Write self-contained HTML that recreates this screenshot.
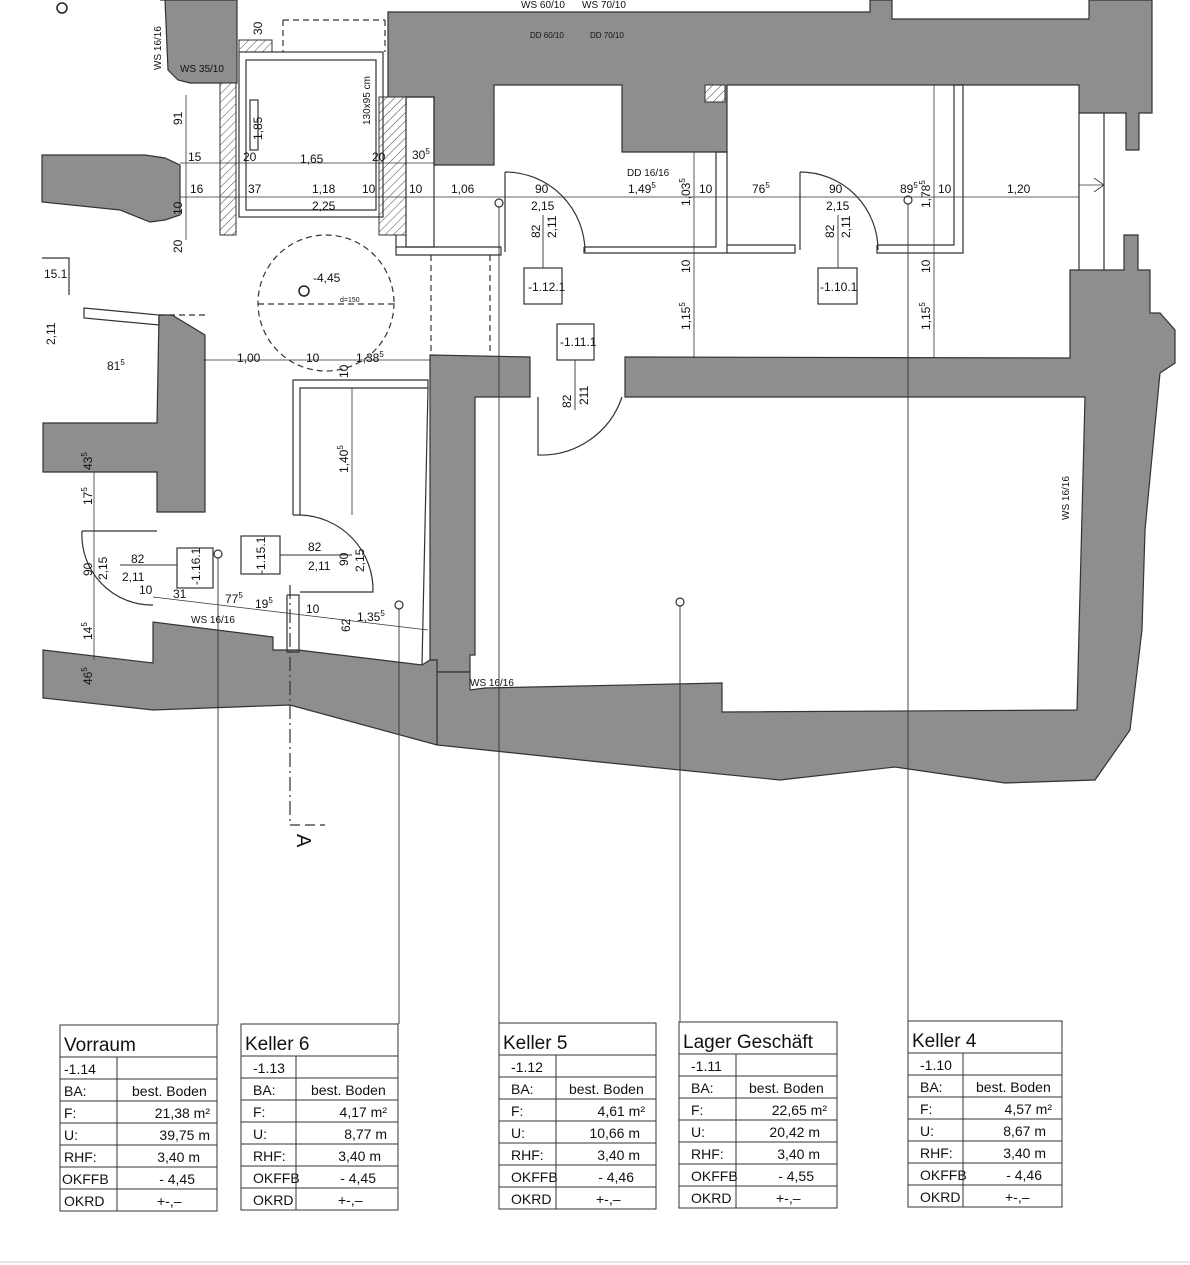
<!DOCTYPE html>
<html><head><meta charset="utf-8"><style>
html,body{margin:0;padding:0;background:#fff;}
svg{display:block;font-family:"Liberation Sans",sans-serif;}
</style></head><body>
<svg width="1190" height="1265" viewBox="0 0 1190 1265" xmlns="http://www.w3.org/2000/svg">
<defs>
<pattern id="h" width="6" height="6" patternUnits="userSpaceOnUse" patternTransform="rotate(45)">
<rect width="6" height="6" fill="#fff"/><line x1="0" y1="0" x2="0" y2="6" stroke="#444" stroke-width="1"/></pattern>
</defs>
<g fill="#8e8e8e" stroke="#333" stroke-width="1.2">
<!-- top-left block -->
<polygon points="160,0 237,0 237,83 190,83 178,80 168,70 165,0"/>
<!-- big top mass -->
<polygon points="388,12 870,12 870,0 892,0 892,19 1089,19 1089,0 1152,0 1152,113 1139,113 1139,150 1126,150 1126,113 1079,113 1079,85 727,85 727,152 622,152 622,85 494,85 494,165 434,165 434,97 406,97 406,110 388,110"/>
<!-- left corridor -->
<polygon points="42,155 145,155 165,158 180,165 180,215 165,220 150,222 120,210 42,202"/>
<!-- left vertical gray -->
<polygon points="159,315 172,315 205,335 205,512 157,512 157,472 43,472 43,423 157,423"/>
<!-- mid wall + Lager left wall -->
<polygon points="430,355 530,357 530,397 475,397 475,655 470,655 470,672 437,672 437,660 430,660"/>
<polygon points="625,357 1070,358 1070,270 1124,270 1124,235 1138,235 1138,270 1150,270 1150,313 1160,313 1175,330 1175,363 1160,373 1145,530 1142,630 1130,730 1095,780 1005,783 895,767 780,780 600,762 437,745 437,672 470,672 470,690 485,688 722,683 722,712 1077,710 1085,397 625,397"/>
<!-- bottom band left -->
<polygon points="43,650 153,663 153,622 273,637 273,650 298,650 422,665 430,660 437,660 437,745 290,705 153,710 43,698"/>
</g>
<!-- lift + hatches -->
<rect x="220" y="83" width="16" height="152" fill="url(#h)" stroke="#333"/>
<rect x="379" y="97" width="27" height="138" fill="url(#h)" stroke="#333"/>
<rect x="239" y="40" width="33" height="12" fill="url(#h)" stroke="#333"/>
<rect x="705" y="85" width="20" height="17" fill="url(#h)" stroke="#333"/>
<g fill="none" stroke="#333" stroke-width="1.2">
<rect x="239" y="52" width="144" height="165"/>
<rect x="246" y="60" width="130" height="150"/>
<rect x="250" y="100" width="8" height="50"/>
<rect x="406" y="97" width="28" height="150"/>
<polyline points="396,247 501,247 501,255 396,255 396,235"/>
<polyline points="584,247 716,247 716,152 727,152 727,253 584,253 584,247"/>
<polyline points="727,245 795,245 795,253 727,253"/>
<polyline points="877,245 954,245 954,85 963,85 963,253 877,253 877,245"/>
<line x1="1104" y1="113" x2="1104" y2="270"/>
<line x1="1079" y1="113" x2="1079" y2="270"/>
<!-- Keller 6 walls -->
<polyline points="293,515 293,380 428,380 428,388 300,388 300,515 293,515"/>
<line x1="428" y1="388" x2="422" y2="665"/>
<polyline points="287,595 299,595 299,652 287,652 287,595"/>
<!-- left room lines -->
<polyline points="42,258 69,258 69,295"/>
<polygon points="84,308 159,315 159,325 84,318"/>
<!-- doors -->
<path d="M505,172 A80,80 0 0 1 585,252"/>
<line x1="505" y1="172" x2="505" y2="252"/>
<path d="M800,172 A78,78 0 0 1 878,250"/>
<line x1="800" y1="172" x2="800" y2="250"/>
<path d="M538,397 L538,455 A85,85 0 0 0 622,397"/>
<path d="M300,515 A75,75 0 0 1 373,592 L300,592"/>
<path d="M82,531 A70,70 0 0 0 153,605"/>
<line x1="82" y1="531" x2="157" y2="531"/>
<!-- dashed -->
<g stroke-dasharray="6,4">
<circle cx="326" cy="303" r="68"/>
<line x1="258" y1="304" x2="393" y2="304"/>
<line x1="283" y1="20" x2="283" y2="52"/>
<line x1="283" y1="20" x2="385" y2="20"/>
<line x1="385" y1="20" x2="385" y2="52"/>
<line x1="431" y1="255" x2="431" y2="355"/>
<line x1="490" y1="255" x2="490" y2="355"/>
<line x1="159" y1="315" x2="205" y2="315"/>
</g>
<line x1="290" y1="585" x2="290" y2="825" stroke-dasharray="14,4,2,4"/>
<line x1="290" y1="825" x2="325" y2="825" stroke-dasharray="10,5"/>
<!-- dimension lines -->
<line x1="180" y1="197" x2="1079" y2="197" stroke-width="0.8"/>
<line x1="180" y1="163" x2="434" y2="163" stroke-width="0.8"/>
<line x1="186" y1="95" x2="186" y2="240" stroke-width="0.8"/>
<line x1="203" y1="360" x2="430" y2="360" stroke-width="0.8"/>
<line x1="352" y1="388" x2="352" y2="515" stroke-width="0.8"/>
<line x1="694" y1="152" x2="694" y2="358" stroke-width="0.8"/>
<line x1="934" y1="85" x2="934" y2="358" stroke-width="0.8"/>
<line x1="94" y1="472" x2="94" y2="660" stroke-width="0.8"/>
<line x1="153" y1="597" x2="428" y2="630" stroke-width="0.8"/>
<line x1="1079" y1="185" x2="1104" y2="185" stroke-width="0.8"/>
<polyline points="1094,178 1104,185 1094,192" stroke-width="0.8"/>
<!-- leader lines -->
<g stroke-width="0.9">
<line x1="218" y1="558" x2="218" y2="1025"/>
<line x1="399" y1="609" x2="399" y2="1024"/>
<line x1="499" y1="207" x2="499" y2="1023"/>
<line x1="680" y1="606" x2="680" y2="1022"/>
<line x1="908" y1="204" x2="908" y2="1021"/>
<line x1="543" y1="215" x2="543" y2="268"/>
<line x1="838" y1="215" x2="838" y2="268"/>
<line x1="575" y1="360" x2="575" y2="410"/>
<line x1="212" y1="565" x2="120" y2="565"/>
<line x1="280" y1="555" x2="352" y2="555"/>
</g>
<circle cx="218" cy="554" r="4"/><circle cx="399" cy="605" r="4"/>
<circle cx="499" cy="203" r="4"/><circle cx="680" cy="602" r="4"/><circle cx="908" cy="200" r="4"/>
<!-- tags -->
<rect x="524" y="268" width="38" height="36" fill="#fff"/>
<rect x="557" y="324" width="37" height="36" fill="#fff"/>
<rect x="818" y="268" width="39" height="36" fill="#fff"/>
<rect x="177" y="548" width="36" height="40" fill="#fff"/>
<rect x="241" y="536" width="39" height="38" fill="#fff"/>
</g>
<circle cx="304" cy="291" r="5" fill="none" stroke="#222" stroke-width="1.5"/>
<circle cx="62" cy="8" r="5" fill="none" stroke="#222" stroke-width="1.5"/>
<g font-size="12" fill="#111">
<text x="528" y="291">-1.12.1</text><text x="560" y="346">-1.11.1</text><text x="820" y="291">-1.10.1</text>
<text x="313" y="282">-4,45</text><text x="340" y="302" font-size="7">d=150</text>
<text x="300" y="163">1,65</text><text x="188" y="161">15</text><text x="243" y="161">20</text><text x="372" y="161">20</text><text x="412" y="159">30<tspan font-size="8" dy="-5">5</tspan></text>
<text x="190" y="193">16</text><text x="248" y="193">37</text><text x="312" y="193">1,18</text><text x="362" y="193">10</text><text x="409" y="193">10</text><text x="451" y="193">1,06</text>
<text x="535" y="193">90</text><text x="531" y="210">2,15</text><text x="628" y="193">1,49<tspan font-size="8" dy="-5">5</tspan></text><text x="699" y="193">10</text><text x="752" y="193">76<tspan font-size="8" dy="-5">5</tspan></text><text x="829" y="193">90</text><text x="826" y="210">2,15</text><text x="900" y="193">89<tspan font-size="8" dy="-5">5</tspan></text><text x="938" y="193">10</text><text x="1007" y="193">1,20</text>
<text x="312" y="210">2,25</text>
<text x="237" y="362">1,00</text><text x="306" y="362">10</text><text x="356" y="362">1,38<tspan font-size="8" dy="-5">5</tspan></text>
<text x="107" y="370">81<tspan font-size="8" dy="-5">5</tspan></text>
<text x="44" y="278">15.1</text>
<text x="131" y="563">82</text><text x="122" y="581">2,11</text><text x="139" y="594">10</text><text x="173" y="598">31</text><text x="225" y="603">77<tspan font-size="8" dy="-5">5</tspan></text><text x="255" y="608">19<tspan font-size="8" dy="-5">5</tspan></text><text x="306" y="613">10</text><text x="357" y="621">1,35<tspan font-size="8" dy="-5">5</tspan></text>
<text x="308" y="551">82</text><text x="308" y="570">2,11</text>
<text x="191" y="623" font-size="10">WS 16/16</text>
<text x="470" y="686" font-size="10">WS 16/16</text>
<text x="180" y="72" font-size="10">WS 35/10</text>
<text x="521" y="8" font-size="10">WS 60/10</text><text x="582" y="8" font-size="10">WS 70/10</text>
<text x="530" y="38" font-size="8">DD 60/10</text><text x="590" y="38" font-size="8">DD 70/10</text>
<text x="627" y="176" font-size="10">DD 16/16</text>
</g>
<g font-size="12" fill="#111">
<text transform="translate(161,70) rotate(-90)" font-size="10">WS 16/16</text>
<text transform="translate(182,125) rotate(-90)">91</text>
<text transform="translate(182,215) rotate(-90)">10</text>
<text transform="translate(182,253) rotate(-90)">20</text>
<text transform="translate(262,140) rotate(-90)">1,85</text>
<text transform="translate(262,35) rotate(-90)">30</text>
<text transform="translate(370,125) rotate(-90)" font-size="10">130x95 cm</text>
<text transform="translate(540,238) rotate(-90)">82</text><text transform="translate(556,238) rotate(-90)">2,11</text>
<text transform="translate(834,238) rotate(-90)">82</text><text transform="translate(850,238) rotate(-90)">2,11</text>
<text transform="translate(571,408) rotate(-90)">82</text><text transform="translate(588,405) rotate(-90)">211</text>
<text transform="translate(690,206) rotate(-90)">1,03<tspan font-size="8" dy="-5">5</tspan></text>
<text transform="translate(690,330) rotate(-90)">1,15<tspan font-size="8" dy="-5">5</tspan></text>
<text transform="translate(690,273) rotate(-90)">10</text>
<text transform="translate(930,208) rotate(-90)">1,78<tspan font-size="8" dy="-5">5</tspan></text>
<text transform="translate(930,330) rotate(-90)">1,15<tspan font-size="8" dy="-5">5</tspan></text>
<text transform="translate(930,273) rotate(-90)">10</text>
<text transform="translate(348,473) rotate(-90)">1,40<tspan font-size="8" dy="-5">5</tspan></text>
<text transform="translate(348,378) rotate(-90)">10</text>
<text transform="translate(348,566) rotate(-90)">90</text><text transform="translate(364,572) rotate(-90)">2,15</text>
<text transform="translate(350,632) rotate(-90)">62</text>
<text transform="translate(55,345) rotate(-90)">2,11</text>
<text transform="translate(92,470) rotate(-90)">43<tspan font-size="8" dy="-5">5</tspan></text>
<text transform="translate(92,505) rotate(-90)">17<tspan font-size="8" dy="-5">5</tspan></text>
<text transform="translate(92,576) rotate(-90)">90</text><text transform="translate(107,580) rotate(-90)">2,15</text>
<text transform="translate(92,640) rotate(-90)">14<tspan font-size="8" dy="-5">5</tspan></text>
<text transform="translate(92,685) rotate(-90)">46<tspan font-size="8" dy="-5">5</tspan></text>
<text transform="translate(200,585) rotate(-90)">-1.16.1</text>
<text transform="translate(265,574) rotate(-90)">-1.15.1</text>
<text transform="translate(1069,520) rotate(-90)" font-size="10">WS 16/16</text>
<text transform="translate(297,834) rotate(90)" font-size="20">A</text>
</g>
<!-- tables -->
<g font-size="14" fill="#111" stroke="none">
<g transform="translate(60,1025)">
<rect x="0" y="0" width="157" height="186" fill="#fff" stroke="#333"/>
<g stroke="#333"><line x1="0" y1="32" x2="157" y2="32"/><line x1="0" y1="54" x2="157" y2="54"/><line x1="0" y1="76" x2="157" y2="76"/><line x1="0" y1="98" x2="157" y2="98"/><line x1="0" y1="120" x2="157" y2="120"/><line x1="0" y1="142" x2="157" y2="142"/><line x1="0" y1="164" x2="157" y2="164"/><line x1="57" y1="32" x2="57" y2="186"/></g>
<text x="4" y="26" font-size="19">Vorraum</text><text x="4" y="49">-1.14</text><text x="4" y="71">BA:</text><text x="72" y="71">best. Boden</text><text x="4" y="93">F:</text><text x="150" y="93" text-anchor="end">21,38 m²</text><text x="4" y="115">U:</text><text x="150" y="115" text-anchor="end">39,75 m</text><text x="4" y="137">RHF:</text><text x="140" y="137" text-anchor="end">3,40 m</text><text x="2" y="159">OKFFB</text><text x="135" y="159" text-anchor="end">- 4,45</text><text x="4" y="181">OKRD</text><text x="97" y="181">+-,–</text>
</g>
<g transform="translate(241,1024)">
<rect x="0" y="0" width="157" height="186" fill="#fff" stroke="#333"/>
<g stroke="#333"><line x1="0" y1="32" x2="157" y2="32"/><line x1="0" y1="54" x2="157" y2="54"/><line x1="0" y1="76" x2="157" y2="76"/><line x1="0" y1="98" x2="157" y2="98"/><line x1="0" y1="120" x2="157" y2="120"/><line x1="0" y1="142" x2="157" y2="142"/><line x1="0" y1="164" x2="157" y2="164"/><line x1="55" y1="32" x2="55" y2="186"/></g>
<text x="4" y="26" font-size="19">Keller 6</text><text x="12" y="49">-1.13</text><text x="12" y="71">BA:</text><text x="70" y="71">best. Boden</text><text x="12" y="93">F:</text><text x="146" y="93" text-anchor="end">4,17 m²</text><text x="12" y="115">U:</text><text x="146" y="115" text-anchor="end">8,77 m</text><text x="12" y="137">RHF:</text><text x="140" y="137" text-anchor="end">3,40 m</text><text x="12" y="159">OKFFB</text><text x="135" y="159" text-anchor="end">- 4,45</text><text x="12" y="181">OKRD</text><text x="97" y="181">+-,–</text>
</g>
<g transform="translate(499,1023)">
<rect x="0" y="0" width="157" height="186" fill="#fff" stroke="#333"/>
<g stroke="#333"><line x1="0" y1="32" x2="157" y2="32"/><line x1="0" y1="54" x2="157" y2="54"/><line x1="0" y1="76" x2="157" y2="76"/><line x1="0" y1="98" x2="157" y2="98"/><line x1="0" y1="120" x2="157" y2="120"/><line x1="0" y1="142" x2="157" y2="142"/><line x1="0" y1="164" x2="157" y2="164"/><line x1="57" y1="32" x2="57" y2="186"/></g>
<text x="4" y="26" font-size="19">Keller 5</text><text x="12" y="49">-1.12</text><text x="12" y="71">BA:</text><text x="70" y="71">best. Boden</text><text x="12" y="93">F:</text><text x="146" y="93" text-anchor="end">4,61 m²</text><text x="12" y="115">U:</text><text x="141" y="115" text-anchor="end">10,66 m</text><text x="12" y="137">RHF:</text><text x="141" y="137" text-anchor="end">3,40 m</text><text x="12" y="159">OKFFB</text><text x="135" y="159" text-anchor="end">- 4,46</text><text x="12" y="181">OKRD</text><text x="97" y="181">+-,–</text>
</g>
<g transform="translate(679,1022)">
<rect x="0" y="0" width="158" height="186" fill="#fff" stroke="#333"/>
<g stroke="#333"><line x1="0" y1="32" x2="158" y2="32"/><line x1="0" y1="54" x2="158" y2="54"/><line x1="0" y1="76" x2="158" y2="76"/><line x1="0" y1="98" x2="158" y2="98"/><line x1="0" y1="120" x2="158" y2="120"/><line x1="0" y1="142" x2="158" y2="142"/><line x1="0" y1="164" x2="158" y2="164"/><line x1="57" y1="32" x2="57" y2="186"/></g>
<text x="4" y="26" font-size="19">Lager Geschäft</text><text x="12" y="49">-1.11</text><text x="12" y="71">BA:</text><text x="70" y="71">best. Boden</text><text x="12" y="93">F:</text><text x="148" y="93" text-anchor="end">22,65 m²</text><text x="12" y="115">U:</text><text x="141" y="115" text-anchor="end">20,42 m</text><text x="12" y="137">RHF:</text><text x="141" y="137" text-anchor="end">3,40 m</text><text x="12" y="159">OKFFB</text><text x="135" y="159" text-anchor="end">- 4,55</text><text x="12" y="181">OKRD</text><text x="97" y="181">+-,–</text>
</g>
<g transform="translate(908,1021)">
<rect x="0" y="0" width="154" height="186" fill="#fff" stroke="#333"/>
<g stroke="#333"><line x1="0" y1="32" x2="154" y2="32"/><line x1="0" y1="54" x2="154" y2="54"/><line x1="0" y1="76" x2="154" y2="76"/><line x1="0" y1="98" x2="154" y2="98"/><line x1="0" y1="120" x2="154" y2="120"/><line x1="0" y1="142" x2="154" y2="142"/><line x1="0" y1="164" x2="154" y2="164"/><line x1="55" y1="32" x2="55" y2="186"/></g>
<text x="4" y="26" font-size="19">Keller 4</text><text x="12" y="49">-1.10</text><text x="12" y="71">BA:</text><text x="68" y="71">best. Boden</text><text x="12" y="93">F:</text><text x="144" y="93" text-anchor="end">4,57 m²</text><text x="12" y="115">U:</text><text x="138" y="115" text-anchor="end">8,67 m</text><text x="12" y="137">RHF:</text><text x="138" y="137" text-anchor="end">3,40 m</text><text x="12" y="159">OKFFB</text><text x="134" y="159" text-anchor="end">- 4,46</text><text x="12" y="181">OKRD</text><text x="97" y="181">+-,–</text>
</g>
</g>
<line x1="0" y1="1262" x2="1190" y2="1262" stroke="#e6e6e6" stroke-width="2"/>
</svg>
</body></html>
